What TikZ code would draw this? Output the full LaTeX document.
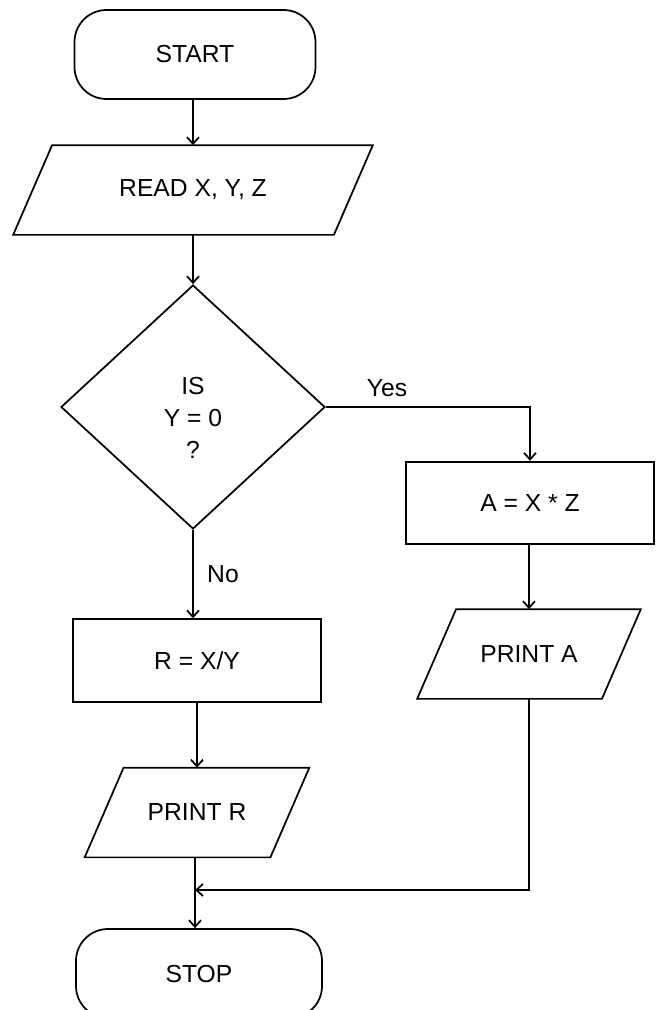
\documentclass[tikz,border=0pt]{standalone}
\usepackage{fontspec}
\setmainfont{Liberation Sans}
\usetikzlibrary{shapes.geometric,arrows.meta}
\tikzset{
 box/.style={draw, line width=1.3pt, inner sep=2pt, font=\fontsize{18.5}{24}\selectfont},
 term/.style={box, rounded corners=24pt, minimum height=66.75pt},
 io/.style={box, draw=none, rectangle, minimum height=66pt},
 proc/.style={box, rectangle, minimum width=186.5pt, minimum height=62pt},
 dec/.style={box, diamond, minimum width=198pt, minimum height=183pt},
 txt/.style={inner sep=2pt, font=\fontsize{18.5}{24}\selectfont, align=center},
 line/.style={line width=1.3pt}
}
\begin{document}
\begin{tikzpicture}[x=0.75pt, y=-0.75pt, >={Straight Barb[length=5pt,width=9pt]}]
 \clip (0,0) rectangle (659,1010); %枠
 \node[term, minimum width=180.75pt] (start) at (195,54.5) {START}; %開始
 \node[io, minimum width=239.25pt] (read) at (193,190) {READ X, Y, Z}; %入力
 \node[dec] (isy) at (193,407) {}; %判断
 \node[txt] (isyText) at (193,418) {IS\\Y = 0\\?}; %判断の文
 \node[proc] (calcA) at (530,503) {A = X * Z}; %Aの計算
 \node[io, minimum width=137.25pt] (printA) at (529,654) {PRINT A}; %A出力
 \node[proc] (calcR) at (197,660.5) {R = X/Y}; %Rの計算
 \node[io, minimum width=138pt] (printR) at (197,812.5) {PRINT R}; %R出力
 \node[term, minimum width=184.5pt] (stop) at (199,973.5) {STOP}; %終了
 \coordinate (join) at (195,890); %合流点
 \foreach \n in {read,printA,printR} %平行四辺形
  \draw[line] ([xshift=14.6pt]\n.north west) -- ([xshift=14.6pt]\n.north east)
   -- ([xshift=-14.6pt]\n.south east) -- ([xshift=-14.6pt]\n.south west) -- cycle;
 \draw[line,->] (start.south -| read.north) -- (read.north);
 \draw[line,->] (read) -- (isy);
 \draw[line,->] (isy.east) -| node[txt, pos=0.15, above=5pt] {Yes} (calcA.north); %Yes
 \draw[line,->] (isy.south) -- node[txt, pos=0.5, right=8pt] {No} (isy.south |- calcR.north); %No
 \draw[line,->] (calcA.south -| printA.north) -- (printA.north);
 \draw[line,->] (calcR) -- (printR);
 \draw[line,->] (printR.south -| join) -- (join) -- (join |- stop.north);
 \draw[line,->] (printA.south) |- (join);
\end{tikzpicture}
\end{document}
